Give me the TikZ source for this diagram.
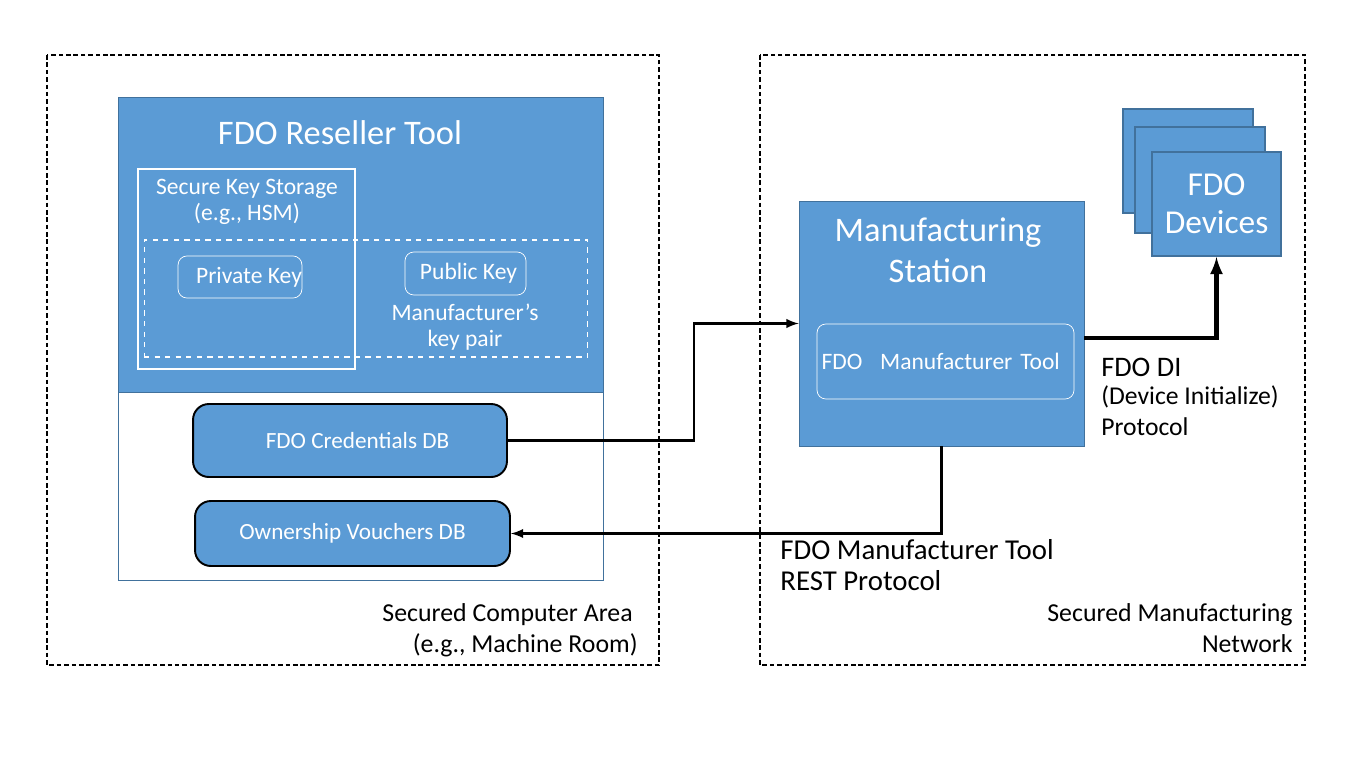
\documentclass[tikz,border=0pt]{standalone}
\usepackage{fontspec}
\setmainfont{Carlito}
\usetikzlibrary{shapes,arrows,positioning}
\definecolor{fdoblue}{HTML}{5B9BD5}
\definecolor{fdoedge}{HTML}{41719C}

\begin{document}
\begin{tikzpicture}[x=0.02cm,y=-0.02cm,
  bluebox/.style={draw=fdoedge,fill=fdoblue,text=white,inner sep=0},
  keybox/.style={draw=white,rounded corners=5pt,text=white,inner sep=0},
  dbbox/.style={draw=black,line width=1.1pt,rounded corners=9pt,fill=fdoblue,text=white,inner sep=0,font=\fontsize{13.2}{15}\selectfont},
  area/.style={draw=black,line width=1.1pt,dash pattern=on 2.6pt off 1.6pt},
  flow/.style={line width=1.4pt,-latex},
  big/.style={font=\fontsize{19.6}{23.2}\selectfont},
  mid/.style={font=\fontsize{13.4}{15}\selectfont},
  lbl/.style={font=\fontsize{14.7}{17.6}\selectfont,inner sep=0}]
\useasboundingbox (0,0) rectangle (1372,771);

% secured areas
\draw[area] (47,55) rectangle (659,665);
\draw[area] (760,55) rectangle (1305,665);

% reseller tool
\node[bluebox,minimum width=9.7cm,minimum height=5.9cm] (resellertop) at (360.5,244.5) {};
\node[draw=fdoedge,minimum width=9.7cm,minimum height=9.66cm,inner sep=0] (reseller) at (360.5,338.5) {};
\node[big,text=white] (resellertitle) at (340,133) {FDO Reseller Tool};
\node[draw=white,line width=1.6pt,minimum width=4.34cm,minimum height=4cm,inner sep=0] (storage) at (246.5,269) {};
\node[mid,text=white,align=center] (storagetitle) at (247,202) {Secure Key Storage\\(e.g., HSM)};
\node[draw=white,dashed,line width=0.6pt,minimum width=8.88cm,minimum height=2.34cm,inner sep=0] (keypair) at (366,298.5) {};
\node[keybox,mid,minimum width=2.44cm,minimum height=0.84cm] (private) at (240,277) {\hspace*{0.36cm}Private Key};
\node[keybox,mid,minimum width=2.42cm,minimum height=0.86cm] (public) at (465.5,273.5) {\hspace*{0.12cm}Public Key};
\node[mid,text=white,align=center] (pairtitle) at (465,327) {Manufacturer’s\\key pair};
\node[dbbox,minimum width=6.28cm,minimum height=1.46cm] (cred) at (350,440.5) {\hspace*{0.3cm}FDO Credentials DB};
\node[dbbox,minimum width=6.3cm,minimum height=1.3cm] (vouchers) at (352.5,533.5) {Ownership Vouchers DB};

% manufacturing station
\node[bluebox,minimum width=5.7cm,minimum height=4.9cm] (station) at (941.5,323.5) {};
\node[big,text=white,align=center] (stationtitle) at (938,250) {Manufacturing\\Station};
\node[keybox,mid,align=left,text width=4.96cm,minimum width=5.14cm,minimum height=1.5cm] (mfgtool) at (945.5,361.5) {\mbox{FDO\hspace{0.2cm} Manufacturer Tool}};

% devices
\node[bluebox,line width=1.2pt,minimum width=2.6cm,minimum height=2.08cm] (devback) at (1188,161) {};
\node[bluebox,line width=1.2pt,minimum width=2.6cm,minimum height=2.12cm] (devmid) at (1200,180) {};
\node[bluebox,line width=1.2pt,align=center,minimum width=2.58cm,minimum height=2.08cm,font=\fontsize{19}{21.5}\selectfont] (devices) at (1216.5,204) {FDO\\Devices};

% connectors
\coordinate (credbend) at (694,323.5);
\draw[flow] (cred.east) -| (credbend) -- (station.west);
\draw[flow,line width=2.3pt] ([yshift=-0.29cm]station.east) -| (devices.south);
\draw[flow] (station.south) |- (vouchers.east);

% labels
\node[lbl,anchor=base west,font=\fontsize{16.1}{18}\selectfont] (di1) at (1101,376) {FDO DI};
\node[lbl,anchor=base west,font=\fontsize{14.6}{17}\selectfont] (di2) at (1101,404) {(Device Initialize)};
\node[lbl,anchor=base west,font=\fontsize{14.6}{17}\selectfont] (di3) at (1101,435) {Protocol};
\node[lbl,anchor=base west,font=\fontsize{16.4}{18}\selectfont] (rest1) at (780,559) {FDO Manufacturer Tool};
\node[lbl,anchor=base west,font=\fontsize{16.4}{18}\selectfont] (rest2) at (780,590) {REST Protocol};
\node[lbl,anchor=base east] (area1) at (633,621) {Secured Computer Area};
\node[lbl,anchor=base east] (area2) at (638,652) {(e.g., Machine Room)};
\node[lbl,anchor=base east] (area3) at (1293,621) {Secured Manufacturing};
\node[lbl,anchor=base east] (area4) at (1293,652) {Network};
\end{tikzpicture}
\end{document}
